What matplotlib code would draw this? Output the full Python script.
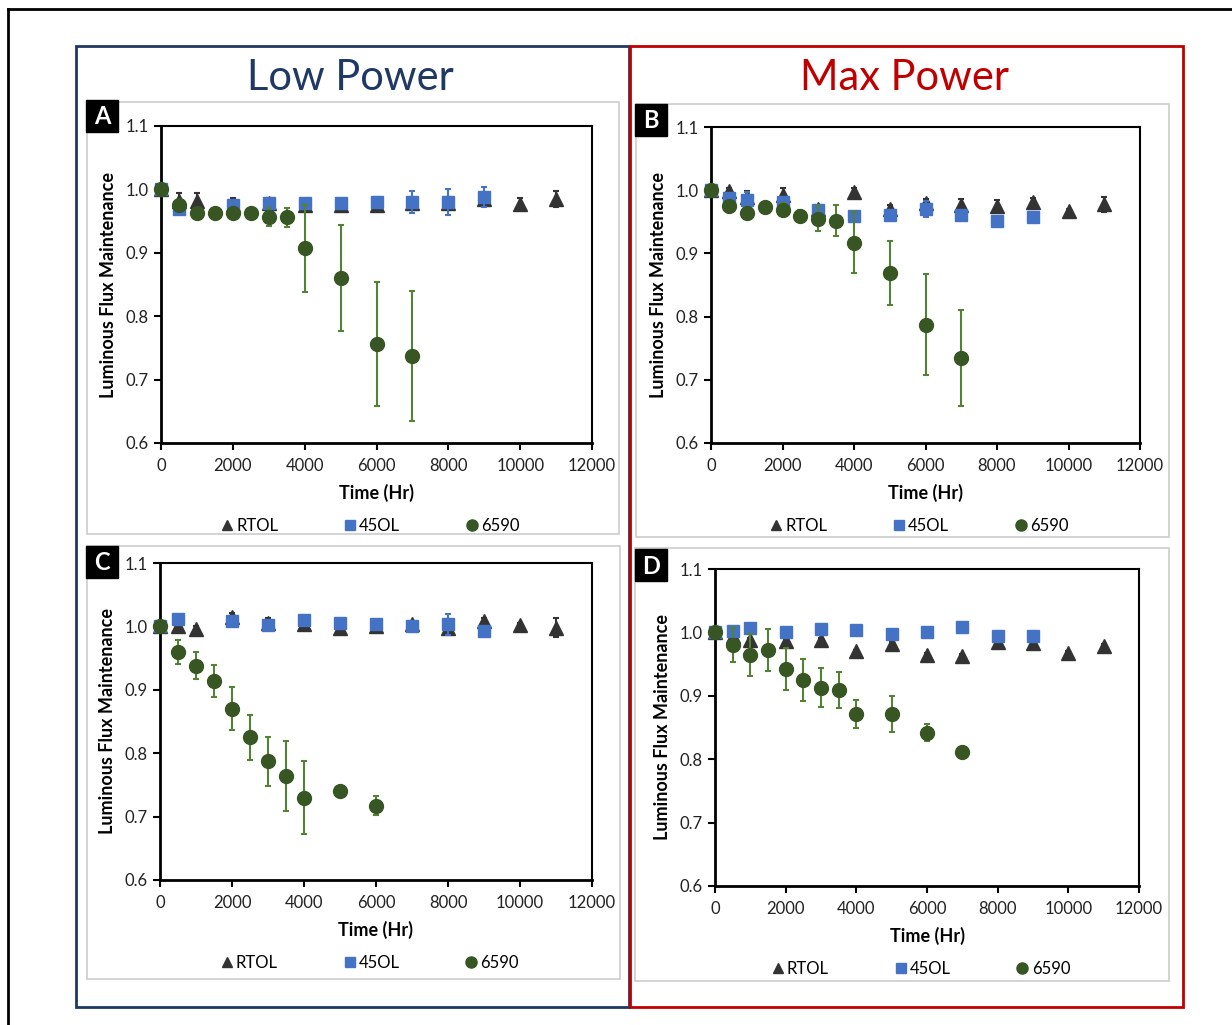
import matplotlib
matplotlib.use("Agg")
import matplotlib.pyplot as plt
from matplotlib.patches import Rectangle
from matplotlib.lines import Line2D

plt.rcParams['font.family'] = ['Lato', 'DejaVu Sans']

# ---------------- data ----------------
# Panel A (Low Power)
A_rtol_x = [0, 500, 1000, 2000, 3000, 4000, 5000, 6000, 7000, 8000, 9000, 10000, 11000]
A_rtol_y = [1.0, 0.982, 0.982, 0.976, 0.978, 0.976, 0.975, 0.975, 0.978, 0.978, 0.985, 0.977, 0.985]
A_rtol_e = [0, 0.013, 0.012, 0.010, 0.008, 0.008, 0.008, 0.008, 0.010, 0.010, 0.010, 0.010, 0.012]
A_45ol_x = [0, 500, 2000, 3000, 4000, 5000, 6000, 7000, 8000, 9000]
A_45ol_y = [1.0, 0.969, 0.975, 0.978, 0.978, 0.978, 0.980, 0.980, 0.980, 0.988]
A_45ol_e = [0, 0.004, 0.005, 0.004, 0.006, 0.006, 0.008, 0.018, 0.020, 0.016]
A_6590_x = [0, 500, 1000, 1500, 2000, 2500, 3000, 3500, 4000, 5000, 6000, 7000]
A_6590_y = [1.0, 0.975, 0.962, 0.962, 0.962, 0.962, 0.956, 0.956, 0.907, 0.860, 0.756, 0.737]
A_6590_e = [0, 0.006, 0.004, 0.003, 0.004, 0.004, 0.014, 0.015, 0.069, 0.084, 0.098, 0.103]

# Panel B (Max Power)
B_rtol_x = [0, 500, 1000, 2000, 3000, 4000, 5000, 6000, 7000, 8000, 9000, 10000, 11000]
B_rtol_y = [1.0, 0.998, 0.990, 0.993, 0.970, 0.997, 0.970, 0.980, 0.977, 0.975, 0.982, 0.967, 0.978]
B_rtol_e = [0, 0.006, 0.008, 0.010, 0.006, 0.006, 0.007, 0.006, 0.009, 0.010, 0.006, 0.004, 0.012]
B_45ol_x = [0, 500, 1000, 2000, 3000, 4000, 5000, 6000, 7000, 8000, 9000]
B_45ol_y = [1.0, 0.988, 0.985, 0.982, 0.968, 0.959, 0.960, 0.970, 0.960, 0.951, 0.957]
B_45ol_e = [0, 0.006, 0.012, 0.008, 0.005, 0.006, 0.005, 0.013, 0.006, 0.004, 0.003]
B_6590_x = [0, 500, 1000, 1500, 2000, 2500, 3000, 3500, 4000, 5000, 6000, 7000]
B_6590_y = [1.0, 0.975, 0.964, 0.973, 0.969, 0.959, 0.955, 0.952, 0.917, 0.869, 0.787, 0.735]
B_6590_e = [0, 0.005, 0.010, 0.004, 0.010, 0.010, 0.020, 0.025, 0.048, 0.050, 0.080, 0.076]

# Panel C (Low Power)
C_rtol_x = [0, 500, 1000, 2000, 3000, 4000, 5000, 6000, 7000, 8000, 9000, 10000, 11000]
C_rtol_y = [1.0, 1.001, 0.996, 1.015, 1.006, 1.004, 0.998, 1.001, 1.003, 0.998, 1.008, 1.002, 0.998]
C_rtol_e = [0, 0.004, 0.004, 0.006, 0.008, 0.006, 0.004, 0.004, 0.006, 0.006, 0.006, 0.004, 0.015]
C_45ol_x = [0, 500, 2000, 3000, 4000, 5000, 6000, 7000, 8000, 9000]
C_45ol_y = [1.0, 1.012, 1.008, 1.002, 1.010, 1.005, 1.003, 1.001, 1.003, 0.992]
C_45ol_e = [0, 0.006, 0.005, 0.005, 0.004, 0.005, 0.004, 0.004, 0.016, 0.006]
C_6590_x = [0, 500, 1000, 1500, 2000, 2500, 3000, 3500, 4000, 5000, 6000]
C_6590_y = [1.0, 0.959, 0.938, 0.914, 0.870, 0.825, 0.787, 0.764, 0.730, 0.741, 0.717]
C_6590_e = [0, 0.019, 0.021, 0.025, 0.034, 0.036, 0.038, 0.055, 0.058, 0.0, 0.015]

# Panel D (Max Power)
D_rtol_x = [0, 500, 1000, 2000, 3000, 4000, 5000, 6000, 7000, 8000, 9000, 10000, 11000]
D_rtol_y = [1.0, 0.995, 0.988, 0.987, 0.988, 0.970, 0.982, 0.965, 0.963, 0.985, 0.983, 0.968, 0.978]
D_rtol_e = [0, 0.004, 0.003, 0.003, 0.003, 0.003, 0.003, 0.003, 0.003, 0.003, 0.003, 0.003, 0.003]
D_45ol_x = [0, 500, 1000, 2000, 3000, 4000, 5000, 6000, 7000, 8000, 9000]
D_45ol_y = [1.0, 1.002, 1.007, 1.000, 1.006, 1.004, 0.997, 1.000, 1.009, 0.995, 0.995]
D_45ol_e = [0, 0.003, 0.003, 0.003, 0.003, 0.003, 0.003, 0.003, 0.003, 0.003, 0.003]
D_6590_x = [0, 500, 1000, 1500, 2000, 2500, 3000, 3500, 4000, 5000, 6000, 7000]
D_6590_y = [1.0, 0.980, 0.964, 0.972, 0.942, 0.925, 0.913, 0.909, 0.871, 0.871, 0.842, 0.811]
D_6590_e = [0, 0.027, 0.033, 0.033, 0.033, 0.033, 0.031, 0.029, 0.022, 0.028, 0.013, 0.0]

series_labels = ["RTOL", "45OL", "6590"]
x_ticks = [0, 2000, 4000, 6000, 8000, 10000, 12000]
y_ticks = [0.6, 0.7, 0.8, 0.9, 1.0, 1.1]
panel_letters = ["A", "B", "C", "D"]
group_titles = ["Low Power", "Max Power"]

# ---------------- style ----------------
W, H = 1232, 1025
fig = plt.figure(figsize=(W / 100, H / 100), dpi=100)

def fx(px):
    return px / W

def fy(py):
    return 1 - py / H

C_TRI = "#333333"
C_SQ = "#4472C4"
C_CI = "#375623"
C_CI_ERR = "#548235"

# outer frame and group boxes (figure overlay)
ov = fig.add_axes([0, 0, 1, 1], zorder=-5)
ov.set_xlim(0, W); ov.set_ylim(H, 0); ov.axis("off")
ov.plot([8, 8], [9, H + 5], color="black", lw=2)
ov.plot([8, W + 5], [9, 9], color="black", lw=2)
ov.add_patch(Rectangle((76, 46), 553, 961, fill=False, ec="#1F3864", lw=2))
ov.add_patch(Rectangle((630, 46), 553, 961, fill=False, ec="#C00000", lw=2))
panel_frames = [(87, 102, 532, 432), (636, 104, 533, 433), (87, 546, 533, 433), (635, 548, 534, 433)]
for (x0, y0, w, h) in panel_frames:
    ov.add_patch(Rectangle((x0, y0), w, h, fill=False, ec="#cccccc", lw=1.2))
ov.text(350, 78, group_titles[0], color="#1F3864", fontsize=30, ha="center", va="center")
ov.text(905, 78, group_titles[1], color="#C00000", fontsize=30, ha="center", va="center")

axes_px = [(161, 126, 592, 443), (711, 127, 1140, 443), (160, 563, 592, 880), (715, 569, 1139, 886)]
letter_px = [(86, 100), (635, 104), (86, 546), (635, 549)]

data = [
    (A_rtol_x, A_rtol_y, A_rtol_e, A_45ol_x, A_45ol_y, A_45ol_e, A_6590_x, A_6590_y, A_6590_e),
    (B_rtol_x, B_rtol_y, B_rtol_e, B_45ol_x, B_45ol_y, B_45ol_e, B_6590_x, B_6590_y, B_6590_e),
    (C_rtol_x, C_rtol_y, C_rtol_e, C_45ol_x, C_45ol_y, C_45ol_e, C_6590_x, C_6590_y, C_6590_e),
    (D_rtol_x, D_rtol_y, D_rtol_e, D_45ol_x, D_45ol_y, D_45ol_e, D_6590_x, D_6590_y, D_6590_e),
]

for i, (l, t, r, b) in enumerate(axes_px):
    ax = fig.add_axes([fx(l), fy(b), fx(r) - fx(l), fy(t) - fy(b)])
    rx, ry, re, sx, sy, se, cx, cy, ce = data[i]
    kw = dict(elinewidth=1.5, capsize=2.5, capthick=1.5, clip_on=False)
    ax.errorbar(rx, ry, yerr=re, fmt="^", color=C_TRI, ms=9.5, ecolor=C_TRI, zorder=3, **kw)
    ax.errorbar(sx, sy, yerr=se, fmt="s", color=C_SQ, ms=9, ecolor=C_SQ, zorder=4, **kw)
    ax.errorbar(cx, cy, yerr=ce, fmt="o", color=C_CI, ms=10, ecolor=C_CI_ERR, zorder=5, **kw)
    ax.set_xlim(0, 12000)
    ax.set_ylim(0.6, 1.1)
    ax.set_xticks(x_ticks)
    ax.set_yticks(y_ticks)
    ax.set_yticklabels([f"{v:.1f}" for v in y_ticks])
    ax.tick_params(axis="both", direction="out", length=5, width=1.5, labelsize=12,
                   colors="black", labelcolor="#222222")
    ax.tick_params(axis="x", pad=6)
    ax.tick_params(axis="y", pad=4)
    for s in ["left", "bottom"]:
        ax.spines[s].set_linewidth(2)
    for s in ["top", "right"]:
        ax.spines[s].set_linewidth(1.5)
    ax.set_xlabel("Time (Hr)", fontsize=13, fontweight="bold", labelpad=7)
    ax.set_ylabel("Luminous Flux Maintenance", fontsize=13, fontweight="bold", labelpad=6)
    handles = [Line2D([], [], ls="none", marker="^", color=C_TRI, ms=7.5),
               Line2D([], [], ls="none", marker="s", color=C_SQ, ms=7),
               Line2D([], [], ls="none", marker="o", color=C_CI, ms=8)]
    ax.legend(handles, series_labels, ncol=3, loc="upper center",
              bbox_to_anchor=(0.485, -0.215), frameon=False, fontsize=12,
              handlelength=0.8, handletextpad=0.15, columnspacing=3.9, borderaxespad=0)
    lx, ly = letter_px[i]
    ov.add_patch(Rectangle((lx, ly), 32, 32, color="black", zorder=5))
    ov.text(lx + 16, ly + 17, panel_letters[i], color="white", fontsize=17,
            fontweight="bold", ha="center", va="center", zorder=6)

fig.savefig("out.png", dpi=100)
